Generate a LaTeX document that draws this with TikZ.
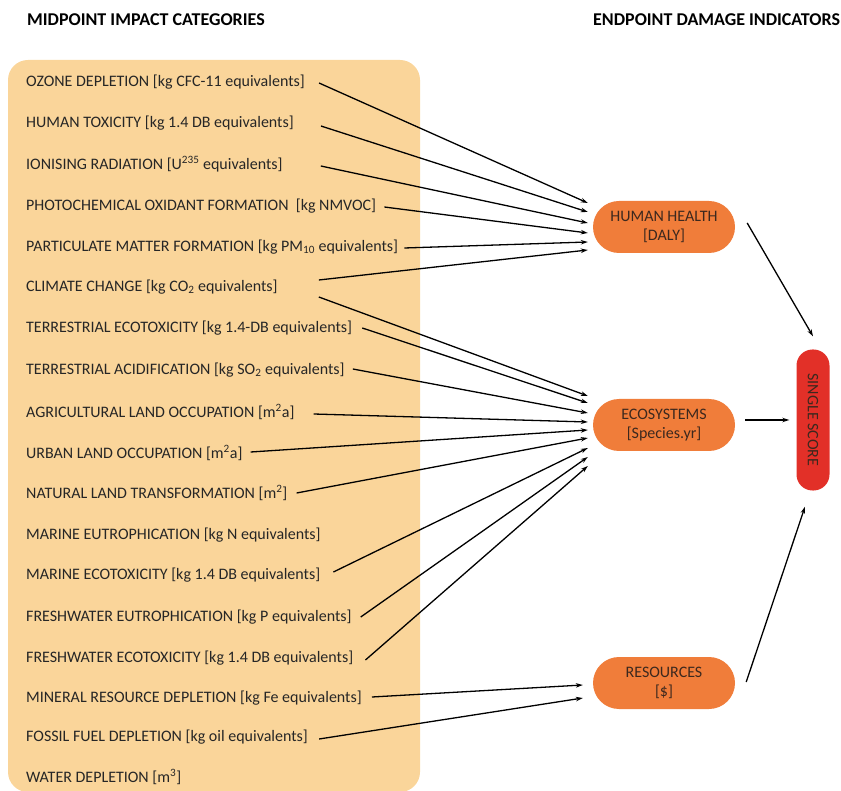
\documentclass[tikz,border=0pt]{standalone}
\usepackage{fontspec}
\setmainfont{Carlito}
\usetikzlibrary{arrows.meta}
\definecolor{boxfill}{RGB}{250,213,154}
\definecolor{nodeorange}{RGB}{240,125,58}
\definecolor{scorered}{RGB}{226,48,40}
\definecolor{inktext}{RGB}{38,38,38}
\definecolor{nodetext}{RGB}{60,40,30}
\begin{document}
\begin{tikzpicture}[x=1pt,y=-1pt,
  item/.style={anchor=west, inner sep=0pt, font=\fontsize{16}{19}\selectfont, text=inktext},
  header/.style={anchor=west, inner sep=0pt, font=\bfseries\fontsize{18}{21}\selectfont, text=black},
  damage/.style={fill=nodeorange, rounded corners=26pt, minimum width=142pt, minimum height=52pt,
    align=center, inner sep=0pt, font=\fontsize{16}{19}\selectfont, text=nodetext},
  score/.style={fill=scorered, rounded corners=16pt, minimum width=33pt, minimum height=141pt,
    inner sep=0pt, font=\fontsize{16}{19}\selectfont, text=nodetext},
  arr/.style={-{Stealth[length=7pt,width=4.5pt]}, line width=1.3pt, draw=black}
]
\useasboundingbox (0,0) rectangle (841,791);
\fill[boxfill, rounded corners=20pt] (8,60) rectangle (420,792);

\node[header] (hmid) at (27,20) {MIDPOINT IMPACT CATEGORIES};
\node[header] (hend) at (593,20) {ENDPOINT DAMAGE INDICATORS};

\node[item] (i1)  at (26,82)  {OZONE DEPLETION [kg CFC-11 equivalents]};
\node[item] (i2)  at (26,123) {HUMAN TOXICITY [kg 1.4 DB equivalents]};
\node[item] (i3)  at (26,164) {IONISING RADIATION [U\textsuperscript{235} equivalents]};
\node[item] (i4)  at (26,206) {PHOTOCHEMICAL OXIDANT FORMATION\ \ [kg NMVOC]};
\node[item] (i5)  at (26,247) {PARTICULATE MATTER FORMATION [kg PM\textsubscript{10} equivalents]};
\node[item] (i6)  at (26,287) {CLIMATE CHANGE [kg CO\textsubscript{2} equivalents]};
\node[item] (i7)  at (26,328) {TERRESTRIAL ECOTOXICITY [kg 1.4-DB equivalents]};
\node[item] (i8)  at (26,370) {TERRESTRIAL ACIDIFICATION [kg SO\textsubscript{2} equivalents]};
\node[item] (i9)  at (26,412) {AGRICULTURAL LAND OCCUPATION [m\textsuperscript{2}a]};
\node[item] (i10) at (26,453) {URBAN LAND OCCUPATION [m\textsuperscript{2}a]};
\node[item] (i11) at (26,493) {NATURAL LAND TRANSFORMATION [m\textsuperscript{2}]};
\node[item] (i12) at (26,535) {MARINE EUTROPHICATION [kg N equivalents]};
\node[item] (i13) at (26,575) {MARINE ECOTOXICITY [kg 1.4 DB equivalents]};
\node[item] (i14) at (26,617) {FRESHWATER EUTROPHICATION [kg P equivalents]};
\node[item] (i15) at (26,658) {FRESHWATER ECOTOXICITY [kg 1.4 DB equivalents]};
\node[item] (i16) at (26,698) {MINERAL RESOURCE DEPLETION [kg Fe equivalents]};
\node[item] (i17) at (26,737) {FOSSIL FUEL DEPLETION [kg oil equivalents]};
\node[item] (i18) at (26,777) {WATER DEPLETION [m\textsuperscript{3}]};

\node[damage] (hh)  at (664,227) {HUMAN HEALTH\\{[DALY]}};
\node[damage] (eco) at (664,425) {ECOSYSTEMS\\{[Species.yr]}};
\node[damage] (res) at (664,683) {RESOURCES\\{[\$]}};
\node[score]  (ss)  at (813,420) {\rotatebox{-90}{SINGLE SCORE}};

% to human health
\draw[arr] ([shift={(14,1)}]i1.east)  -- ([shift={(-5,-24)}]hh.west);
\draw[arr] ([shift={(27,3)}]i2.east)  -- ([shift={(-5,-15)}]hh.west);
\draw[arr] ([shift={(38,2)}]i3.east)  -- ([shift={(-5,-4)}]hh.west);
\draw[arr] ([shift={(8,1)}]i4.east)   -- ([shift={(-5,6)}]hh.west);
\draw[arr] ([shift={(6,1)}]i5.east)   -- ([shift={(-5,15)}]hh.west);
\draw[arr] ([shift={(41,-7)}]i6.east) -- ([shift={(-5,23)}]hh.west);
% to ecosystems
\draw[arr] ([shift={(41,10)}]i6.east) -- ([shift={(-5,-29)}]eco.west);
\draw[arr] ([shift={(10,0)}]i7.east)  -- ([shift={(-5,-22)}]eco.west);
\draw[arr] ([shift={(8,-1)}]i8.east)  -- ([shift={(-5,-12)}]eco.west);
\draw[arr] ([shift={(19,2)}]i9.east)  -- ([shift={(-5,-3)}]eco.west);
\draw[arr] ([shift={(8,-1)}]i10.east) -- ([shift={(-5,5)}]eco.west);
\draw[arr] ([shift={(9,0)}]i11.east)  -- ([shift={(-5,13)}]eco.west);
\draw[arr] ([shift={(13,-3)}]i13.east) -- ([shift={(-5,23)}]eco.west);
\draw[arr] ([shift={(9,0)}]i14.east)  -- ([shift={(-5,32)}]eco.west);
\draw[arr] ([shift={(12,2)}]i15.east) -- ([shift={(-5,41)}]eco.west);
% to resources
\draw[arr] ([shift={(10,-1)}]i16.east) -- ([shift={(-10,2)}]res.west);
\draw[arr] ([shift={(11,2)}]i17.east) -- ([shift={(-10,15)}]res.west);
% to single score
\draw[arr] ([shift={(12,-4)}]hh.east)  -- ([shift={(0,-13)}]ss.north);
\draw[arr] ([shift={(10,-5)}]eco.east) -- ([shift={(-7,0)}]ss.west);
\draw[arr] ([shift={(11,-1)}]res.east) -- ([shift={(-8,16)}]ss.south);
\end{tikzpicture}
\end{document}
